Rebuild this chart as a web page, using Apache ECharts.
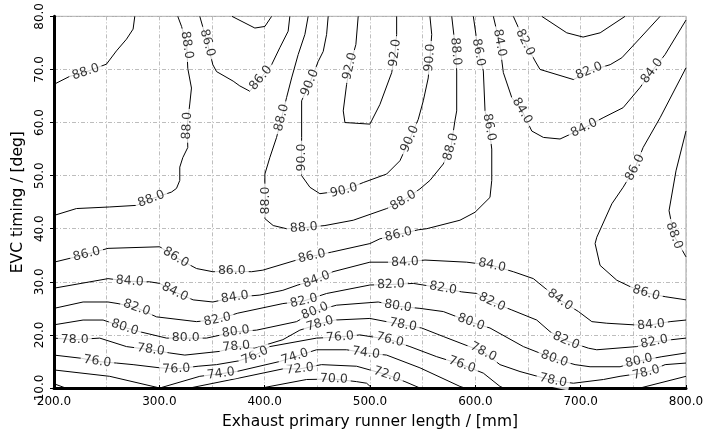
<!DOCTYPE html>
<html><head><meta charset="utf-8">
<script src="https://cdn.jsdelivr.net/npm/echarts@6/dist/echarts.min.js"></script>
<style>html,body{margin:0;padding:0;background:#fff}#c{width:717px;height:435px}</style>
</head><body><div id="c"></div><script>
// Axis ranges
const xRange = [200, 800];
const yRange = [10, 80];
const levels = [70, 72, 74, 76, 78, 80, 82, 84, 86, 88, 90, 92];

// Contour lines, points [runner length mm, EVC timing deg]; third value 'L' marks a label position
const contour70 = [
  [[397.1,10],[439.8,11.6],[465.7,11.7,'L'],[487.3,11.2],[496.8,10.9],[501.8,10]]
];
const contour72 = [
  [[200,10.8],[211,10]],
  [[328.9,10],[376.4,11.9],[417.3,13.6],[433.4,13.6,'L'],[454.0,14.4],[487.3,14.1],[499.9,13.4],[516.1,12.5,'L'],[533.2,11.2],[547.4,10]]
];
const contour74 = [
  [[200,13.4],[252.9,12.2],[300.4,10.0],[338.4,12.2],[358.4,12.7,'L'],[373.3,13.1],[414.4,15.0],[428.7,15.9,'L'],[449.3,17.2],[477.8,17.2],[496.1,16.6,'L'],[515.8,16.2],[547.4,13.8],[585.4,10.3],[590,10]]
];
const contour76 = [
  [[200,16.2],[226.0,15.6],[241.1,15.0,'L'],[259.3,14.7],[275.1,14.4],[300.4,13.8],[316.1,13.6,'L'],[336.8,14.1],[354.3,14.4],[375,15.1],[390.7,16.1,'L'],[404.9,17.8],[449.3,19.4],[471.5,19.6,'L'],[490.4,20.0],[499.9,19.7],[518.9,19.1,'L'],[537.9,17.8],[563.3,15.9],[587.4,14.4,'L'],[607.6,12.8],[623.4,10.3],[627,10]],
  [[756.4,10],[800,12.2]]
];
const contour78 = [
  [[200,19.4],[219.7,19.1,'L'],[243.4,19.4],[268.8,17.8],[291.9,17.2,'L'],[309.9,16.6],[324.2,16.2],[357.4,16.9],[373.1,17.8,'L'],[390.7,17.5],[417.3,19.1],[433.4,20.9],[452.4,22.1,'L'],[466.7,22.8],[499.9,23.1],[531.3,21.9,'L'],[549.1,21.3],[569.6,19.7],[607.6,16.8,'L'],[623.4,14.4],[642.4,13.1],[673.8,11.4,'L'],[693.1,10.9],[721.6,11.6],[737.4,12.2],[762.1,12.9,'L'],[780.2,14.4],[800,14.7]]
];
const contour80 = [
  [[200,21.9],[227.6,22.8],[246.6,22.8],[267.2,21.4,'L'],[281.4,20.6],[306.8,19.4],[325.1,19.4,'L'],[344.8,19.4],[372.6,20.6,'L'],[392.3,20.9],[430.3,22.5],[447.7,24.5,'L'],[468.3,25.6],[507.8,26.2],[526.5,25.4,'L'],[547.4,25.0],[569.6,24.4],[595.9,22.4,'L'],[613.9,21.3],[645.6,17.8],[675.0,15.5,'L'],[694.7,14.4],[708.9,14.0],[737.4,14.0],[755.4,15.1,'L'],[777.1,15.9],[800,16.6]],
  [[663.1,80],[686.8,76.9],[702.3,76.1],[718.5,76.9],[742.1,80]]
];
const contour82 = [
  [[200,25.0],[227.6,26.2],[251.3,26.2],[260.8,25.9],[278.6,25.1,'L'],[297.3,23.4],[335.3,22.5],[355.1,22.9,'L'],[374.5,24.1],[417.3,25.9],[437.2,26.4,'L'],[458.8,27.8],[499.9,29.4],[519.9,29.5,'L'],[541.1,29.7],[569.3,28.8,'L'],[587.1,28.1],[601.3,27.8],[615.8,26.2,'L'],[634.6,24.7],[658.3,22.8],[671.0,20.6],[686.2,18.9,'L'],[707.4,17.5],[715.3,17.2],[753.3,17.8],[769.8,18.7,'L'],[786.6,19.1],[800,19.4]],
  [[636.1,80],[647.2,75.1,'L'],[656.7,71.6],[661.4,70.0],[693.1,68.1],[708.0,69.7,'L'],[728.0,70.9],[739.1,72.2],[756.4,75.9],[775.4,80]]
];
const contour84 = [
  [[200,28.8],[251.3,30.6],[271.9,30.1,'L'],[290.9,30.0],[300.4,29.7],[314.7,28.1,'L'],[332.1,26.6],[350.8,26.2],[371.7,27.1,'L'],[395.4,27.5],[417.3,28.4],[431.5,29.4],[449.2,30.4,'L'],[464.8,31.9],[499.9,33.7],[533.2,33.7,'L'],[552.2,34.1],[591.8,33.7],[615.8,33.1,'L'],[636.1,31.9],[655.1,30.6],[666.2,28.8],[680.4,26.6,'L'],[697.9,24.4],[710.6,22.5],[724.8,22.2],[750.1,21.9],[766.9,21.9,'L'],[784.9,22.5],[800,22.8]],
  [[369,80],[390.7,77.8],[400.2,78.1],[406.6,80]],
  [[617.1,80],[623.0,75.0,'L'],[626.6,69.4],[634.6,64.7],[644.4,62.2,'L'],[653.6,58.4],[664.6,57.2],[680.4,56.9],[703.3,59.0,'L'],[721.3,60.9],[740.3,62.8],[756.4,66.6],[767.8,69.7,'L'],[780.1,72.8],[800,79.3]]
];
const contour86 = [
  [[200,33.7],[231.1,35.2,'L'],[251.3,36.3],[300.4,36.6],[315.6,34.6,'L'],[335.3,32.5],[350.8,31.9],[368.8,32.0,'L'],[387.5,31.9],[398.3,32.2],[430.3,34.1],[444.8,34.8,'L'],[463.6,35.6],[499.9,37.2],[509.4,38.1],[527.0,38.9,'L'],[545.8,39.8],[553.8,40.0],[585.4,41.6],[599.7,43.1],[613.9,45.9],[615.6,49.1],[615.6,55.0],[613.1,59.1,'L'],[609.2,62.2],[607.6,69.7],[603.0,73.2,'L'],[598.1,80]],
  [[338.4,80],[345.6,75.0,'L'],[350.8,70.9],[354.3,69.6],[370.1,67.8],[376.4,66.9],[385.9,65.9],[396.4,68.4,'L'],[406.6,70.9],[414.4,74.1],[422.3,77.2],[423.9,80]],
  [[800,70.3],[775.4,60.9],[759.3,55.3],[751.7,51.5,'L'],[740.3,47.8],[729.6,44.7],[715.3,38.4],[713.7,37.2],[718.4,33.1],[734.3,30.3],[746.9,29.1],[762.1,27.9,'L'],[780.2,27.2],[800,26.6]]
];
const contour88 = [
  [[200,67.2],[214.9,68.7],[230.1,69.5,'L'],[249.8,71.0],[259.3,73.5],[268.8,75.7],[275.1,77.6],[276.7,80]],
  [[317.5,80],[321.1,78.1],[326.0,74.6,'L'],[327.0,70.2],[330.5,66.5],[328.9,63.5],[326.5,59.4,'L'],[327.0,55.3],[322.3,53.4],[319.4,51.6],[319.4,49.1],[316.3,47.6],[311.5,46.9],[292.4,45.6,'L'],[278.3,44.4],[252.9,44.1],[221.3,43.8],[200,42.5]],
  [[441.3,80],[438.2,76.6],[431.8,72.8],[425.6,68.4],[420.8,64.7],[416.1,60.9,'L'],[411.3,57.2],[404.9,53.4],[400.2,50.3],[400.2,48.4],[400.8,45.3,'L'],[400.2,41.9],[408.1,40.6],[420.8,40.0],[437.2,40.2,'L'],[457.2,40.6],[484.1,41.6],[515.8,43.8],[531.6,45.3,'L'],[547.4,47.5],[556.9,49.1],[569.6,52.2],[576.9,55.4,'L'],[580.6,60.3],[582.3,62.2],[582.3,69.7],[581.4,73.4,'L'],[577.6,80]],
  [[800,58.4],[790.5,50.9],[783.9,43.4],[788.6,38.7,'L'],[800,34.7]]
];
const contour90 = [
  [[460.3,80],[458.8,76.6],[455.6,73.4],[450.8,71.5],[443.0,67.5,'L'],[435.1,64.1],[435.1,57.2],[434.9,53.4,'L'],[435.1,50.0],[443.0,47.8],[452.4,46.6],[475.2,47.2,'L'],[493.6,48.7],[515.8,50.3],[528.4,52.8],[537.9,56.9,'L'],[545.8,60.6],[550.6,64.1],[555.3,68.4],[556.9,72.2,'L'],[558.6,76.6],[556.9,80]]
];
const contour92 = [
  [[488.8,80],[486.6,74.7],[480.9,70.6,'L'],[477.8,67.2],[474.6,62.2],[476.2,60.0],[499.9,59.7],[509.4,63.4],[520.6,69.4],[523.7,73.1,'L'],[525.3,76.6],[525.3,80]]
];
const contours = {70:contour70,72:contour72,74:contour74,76:contour76,78:contour78,80:contour80,
  82:contour82,84:contour84,86:contour86,88:contour88,90:contour90,92:contour92};

const FONT = 'DejaVu Sans';
const chart = echarts.init(document.getElementById('c'), null, {renderer: 'canvas'});

const lineSeries = [];
levels.forEach(lv => contours[lv].forEach(seg => {
  lineSeries.push({
    type: 'line', data: seg.map(p => [p[0], p[1]]), symbol: 'none', showSymbol: false,
    lineStyle: {color: '#000', width: 1}, silent: true, z: 3, clip: true, animation: false
  });
}));

const gridLine = {color: '#bdbdbd', width: 1, type: [4, 2, 1, 2]};
const baseOption = {
  animation: false,
  backgroundColor: '#fff',
  grid: {left: 54, right: 31, top: 15, bottom: 47, show: true, borderColor: '#a0a0a0', borderWidth: 1},
  xAxis: {
    type: 'value', min: xRange[0], max: xRange[1], interval: 100,
    name: 'Exhaust primary runner length / [mm]', nameLocation: 'middle', nameGap: 26,
    nameTextStyle: {fontFamily: FONT, fontSize: 15.5, color: '#000'},
    axisLine: {show: true, lineStyle: {color: '#000', width: 3}},
    axisTick: {show: true, inside: true, length: 3, lineStyle: {color: '#000', width: 1}},
    axisLabel: {formatter: v => v.toFixed(1), fontFamily: FONT, fontSize: 12, color: '#000', margin: 8},
    splitLine: {show: true, lineStyle: gridLine},
    minorTick: {show: false, splitNumber: 2},
    minorSplitLine: {show: true, lineStyle: gridLine}
  },
  yAxis: {
    type: 'value', min: yRange[0], max: yRange[1], interval: 10,
    name: 'EVC timing / [deg]', nameLocation: 'middle', nameGap: 22, nameRotate: 90,
    nameTextStyle: {fontFamily: FONT, fontSize: 15.5, color: '#000'},
    axisLine: {show: true, lineStyle: {color: '#000', width: 3}},
    axisTick: {show: true, inside: false, length: 4, lineStyle: {color: '#000', width: 1}},
    axisLabel: {formatter: v => v.toFixed(1), rotate: 90, fontFamily: FONT, fontSize: 12, color: '#000', margin: 8},
    splitLine: {show: true, lineStyle: gridLine}
  },
  series: lineSeries.concat([{type: 'scatter', id: 'labels', data: []}])
};
chart.setOption(baseOption);

function labelData() {
  const out = [];
  levels.forEach(lv => contours[lv].forEach(seg => seg.forEach((p, i) => {
    if (p[2] !== 'L') return;
    const a = seg[Math.max(0, i - 1)], b = seg[Math.min(seg.length - 1, i + 1)];
    const pa = chart.convertToPixel({gridIndex: 0}, [a[0], a[1]]);
    const pb = chart.convertToPixel({gridIndex: 0}, [b[0], b[1]]);
    let ang = -Math.atan2(pb[1] - pa[1], pb[0] - pa[0]) * 180 / Math.PI;
    if (ang > 90) ang -= 180;
    if (ang <= -90) ang += 180;
    out.push({value: [p[0], p[1]], name: lv.toFixed(1), label: {rotate: ang}});
  })));
  return out;
}

chart.setOption({
  series: [{
    id: 'labels', type: 'scatter', data: labelData(), symbolSize: 1,
    itemStyle: {color: 'rgba(0,0,0,0)'}, silent: true, z: 10,
    label: {show: true, position: 'inside', formatter: p => p.name, color: '#000',
      fontFamily: FONT, fontSize: 12.5, backgroundColor: '#fff', padding: [0, 3]}
  }]
});
</script></body></html>
